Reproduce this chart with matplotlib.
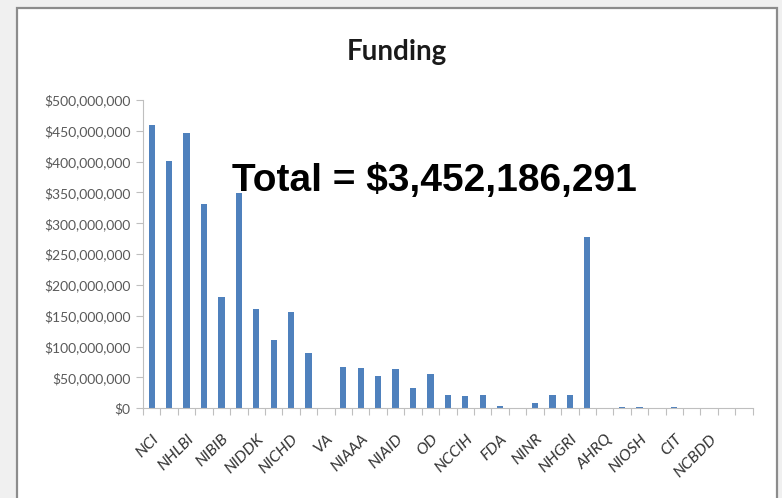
import numpy as np
import matplotlib.pyplot as plt
from matplotlib.patches import Rectangle
from matplotlib.ticker import FuncFormatter

# agencies (only every other one is labelled on the axis)
agencies = ['NCI', 'NIMH', 'NHLBI', 'NINDS', 'NIBIB', 'NIGMS', 'NIDDK', 'NIA',
            'NICHD', 'NIDA', 'VA', 'NIEHS', 'NIAAA', 'NIAMS', 'NIAID', 'NEI',
            'OD', 'NLM', 'NCCIH', 'NCATS', 'FDA', 'NIDCD', 'NINR', 'NIDCR',
            'NHGRI', 'NIMHD', 'AHRQ', 'CDC', 'NIOSH', 'FIC', 'CIT', 'DoD',
            'NCBDD', 'CSR', 'NSF']
funding = [459.5e6, 401.6e6, 446.0e6, 330.8e6, 180.0e6, 349.7e6, 161.0e6, 110.8e6,
           156.7e6, 89.2e6, 0, 67.5e6, 65.9e6, 52.4e6, 63.7e6, 33.5e6,
           55.0e6, 21.6e6, 20.0e6, 21.6e6, 3.7e6, 0, 8.0e6, 21.6e6,
           21.6e6, 278.3e6, 0, 2.0e6, 1.5e6, 0, 1.5e6, 0,
           0, 0, 0]
total_text = 'Total = $3,452,186,291'

fig = plt.figure(figsize=(7.82, 4.98), dpi=100, facecolor='#f0f0f0')

# white chart box with grey border
box = Rectangle((17 / 782, -0.05), 760 / 782, 1.05 - 8 / 498,
                transform=fig.transFigure, facecolor='white',
                edgecolor='#8c8c8c', linewidth=1.6, zorder=-5)
fig.patches.append(box)

ax = fig.add_axes([143 / 782, 1 - 408.3 / 498, (752.7 - 143) / 782, 308.3 / 498])
ax.set_facecolor('none')
ax.set_zorder(2)

x = np.arange(len(agencies))
ax.bar(x, funding, width=0.36, color='#4f81bd', zorder=2)

ax.set_xlim(-0.5, len(agencies) - 0.5)
ax.set_ylim(0, 500e6)
ax.set_yticks(np.arange(0, 500e6 + 1, 50e6))
ax.yaxis.set_major_formatter(FuncFormatter(lambda v, p: '${:,.0f}'.format(v)))

# tick marks at category boundaries, labels on every other category (last one unlabelled)
ax.set_xticks(np.arange(-0.5, len(agencies), 1))
ax.set_xticklabels([])
ax.set_xticks(x[0:33:2], minor=True)
ax.set_xticklabels(agencies[0:33:2], minor=True, rotation=45, ha='right', va='top',
                   rotation_mode='anchor', fontstyle='italic', fontsize=11.5,
                   color='#333333', family='Lato')
ax.tick_params(axis='x', which='minor', length=0, pad=17)
ax.tick_params(axis='x', which='major', length=5, color='#bfbfbf', direction='out')
ax.tick_params(axis='y', length=5, color='#bfbfbf', labelsize=10, labelcolor='#595959',
               pad=4)
for lbl in ax.get_yticklabels():
    lbl.set_family('Lato')

for s in ['top', 'right']:
    ax.spines[s].set_visible(False)
ax.spines['left'].set_color('#bfbfbf')
ax.spines['bottom'].set_color('#bfbfbf')

fig.text(0.508, 0.896, 'Funding', ha='center', va='center', fontsize=20,
         fontweight='bold', family='Lato', color='#1a1a1a')
fig.text(232 / 782, 1 - 191 / 498, total_text, ha='left', va='baseline',
         fontsize=28, fontweight='bold', family='Liberation Sans', color='black',
         zorder=5)

plt.savefig('out.png', dpi=100, facecolor=fig.get_facecolor())
